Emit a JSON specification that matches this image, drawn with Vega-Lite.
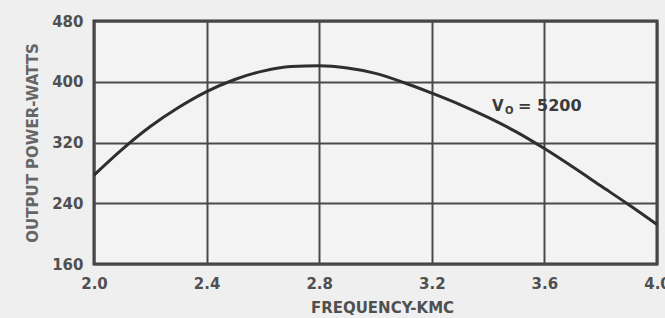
{
  "$schema": "https://vega.github.io/schema/vega-lite/v6.json",
  "autosize": "none",
  "width": 563,
  "height": 243,
  "padding": {"left": 94, "top": 21, "right": 8, "bottom": 54},
  "background": "#efefef",
  "config": {
    "view": {"stroke": "#3a3a3a", "strokeWidth": 3, "fill": "#f3f3f3"},
    "font": "DejaVu Sans"
  },
  "datasets": {
    "curve": [
      {"f": 2.0, "p": 277},
      {"f": 2.1, "p": 311},
      {"f": 2.2, "p": 341},
      {"f": 2.3, "p": 366},
      {"f": 2.4, "p": 387},
      {"f": 2.5, "p": 403},
      {"f": 2.6, "p": 414},
      {"f": 2.7, "p": 420},
      {"f": 2.8, "p": 421},
      {"f": 2.9, "p": 418},
      {"f": 3.0, "p": 411},
      {"f": 3.1, "p": 399},
      {"f": 3.2, "p": 385},
      {"f": 3.3, "p": 370},
      {"f": 3.4, "p": 353},
      {"f": 3.5, "p": 334},
      {"f": 3.6, "p": 312},
      {"f": 3.7, "p": 288},
      {"f": 3.8, "p": 263},
      {"f": 3.9, "p": 238},
      {"f": 4.0, "p": 212}
    ],
    "note": [{"f": 3.414, "p": 368}]
  },
  "layer": [
    {
      "data": {"name": "curve"},
      "mark": {"type": "line", "interpolate": "monotone", "color": "#2e2e2e", "strokeWidth": 3},
      "encoding": {
        "x": {
          "field": "f", "type": "quantitative",
          "scale": {"domain": [2.0, 4.0], "nice": false, "zero": false},
          "axis": {
            "values": [2.0, 2.4, 2.8, 3.2, 3.6, 4.0],
            "format": ".1f",
            "title": "FREQUENCY-KMC",
            "grid": true, "gridColor": "#4a4a4a", "gridWidth": 2, "gridOpacity": 1,
            "domain": false, "ticks": false,
            "labelFont": "DejaVu Sans", "labelFontWeight": "bold", "labelFontSize": 15, "labelColor": "#505050",
            "labelPadding": 12, "labelBaseline": "top", "labelFlush": false,
            "titleFont": "DejaVu Sans", "titleFontWeight": "bold", "titleFontSize": 15, "titleColor": "#505050",
            "titleY": 43, "titleBaseline": "middle", "titleX": 288
          }
        },
        "y": {
          "field": "p", "type": "quantitative",
          "scale": {"domain": [160, 480], "nice": false, "zero": false},
          "axis": {
            "values": [160, 240, 320, 400, 480],
            "title": "OUTPUT POWER-WATTS",
            "grid": true, "gridColor": "#4a4a4a", "gridWidth": 2, "gridOpacity": 1,
            "domain": false, "ticks": false,
            "labelFont": "DejaVu Sans", "labelFontWeight": "bold", "labelFontSize": 15, "labelColor": "#505050",
            "labelPadding": 11, "labelFlush": false,
            "titleFont": "DejaVu Sans", "titleFontWeight": "bold", "titleFontSize": 15, "titleColor": "#666666",
            "titleX": -62, "titleY": 121.5, "titleAngle": -90, "titleBaseline": "middle", "titleAlign": "center"
          }
        }
      }
    },
    {
      "data": {"name": "note"},
      "mark": {"type": "text", "text": "V", "align": "left", "baseline": "middle", "font": "DejaVu Sans", "fontWeight": "bold", "fontSize": 15, "color": "#3a3a3a"},
      "encoding": {"x": {"field": "f", "type": "quantitative"}, "y": {"field": "p", "type": "quantitative"}}
    },
    {
      "data": {"name": "note"},
      "mark": {"type": "text", "text": "O", "align": "left", "baseline": "middle", "dx": 13, "dy": 5, "font": "DejaVu Sans", "fontWeight": "bold", "fontSize": 10, "color": "#3a3a3a"},
      "encoding": {"x": {"field": "f", "type": "quantitative"}, "y": {"field": "p", "type": "quantitative"}}
    },
    {
      "data": {"name": "note"},
      "mark": {"type": "text", "text": "= 5200", "align": "left", "baseline": "middle", "dx": 26, "font": "DejaVu Sans", "fontWeight": "bold", "fontSize": 16, "color": "#3a3a3a"},
      "encoding": {"x": {"field": "f", "type": "quantitative"}, "y": {"field": "p", "type": "quantitative"}}
    }
  ]
}
